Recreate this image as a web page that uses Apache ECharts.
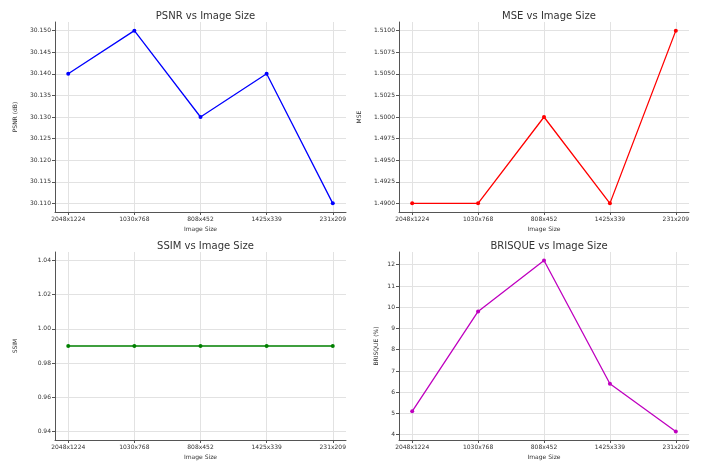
<!DOCTYPE html>
<html>
<head>
<meta charset="utf-8">
<script src="https://cdn.jsdelivr.net/npm/echarts@6/dist/echarts.min.js"></script>
<style>
  html, body { margin: 0; padding: 0; background: #fff; }
  #myChart { width: 705px; height: 462px; }
</style>
</head>
<body>
<div id="myChart"></div>
<script>
  // categories
  var sizes = ['2048x1224', '1030x768', '808x452', '1425x339', '231x209']
  // metric values
  var psnr = [30.140, 30.150, 30.130, 30.140, 30.110]
  var mse = [1.4900, 1.4900, 1.5000, 1.4900, 1.5100]
  var ssim = [0.99, 0.99, 0.99, 0.99, 0.99]
  var brisque = [5.1, 9.8, 12.2, 6.4, 4.15]
  // tick labels
  var psnrTicks = [30.110, 30.115, 30.120, 30.125, 30.130, 30.135, 30.140, 30.145, 30.150]
  var mseTicks = [1.4900, 1.4925, 1.4950, 1.4975, 1.5000, 1.5025, 1.5050, 1.5075, 1.5100]
  var ssimTicks = [0.94, 0.96, 0.98, 1.00, 1.02, 1.04]
  var brisqueTicks = [4, 5, 6, 7, 8, 9, 10, 11, 12]

  var font = 'DejaVu Sans'
  var idx = sizes.map(function (s, i) { return i })

  var panels = [
    { title: 'PSNR vs Image Size', yName: 'PSNR (dB)', data: psnr, ticks: psnrTicks, dec: 3, min: 30.108, max: 30.152, color: '#0000ff', grid: { left: 55, top: 22, width: 291, height: 190 } },
    { title: 'MSE vs Image Size', yName: 'MSE', data: mse, ticks: mseTicks, dec: 4, min: 1.489, max: 1.511, color: '#ff0000', grid: { left: 399, top: 22, width: 290, height: 190 } },
    { title: 'SSIM vs Image Size', yName: 'SSIM', data: ssim, ticks: ssimTicks, dec: 2, min: 0.935, max: 1.045, color: '#008000', grid: { left: 55, top: 252, width: 291, height: 188 } },
    { title: 'BRISQUE vs Image Size', yName: 'BRISQUE (%)', data: brisque, ticks: brisqueTicks, dec: 0, min: 3.75, max: 12.6, color: '#bf00bf', grid: { left: 399, top: 252, width: 290, height: 188 } }
  ]

  var option = { animation: false, title: [], grid: [], xAxis: [], yAxis: [], series: [] }

  panels.forEach(function (p, k) {
    option.grid.push(p.grid)
    option.title.push({
      text: p.title,
      left: p.grid.left + p.grid.width / 2,
      top: p.grid.top - 16,
      textAlign: 'center',
      textStyle: { fontFamily: font, fontSize: 10, fontWeight: 'normal', color: '#333' }
    })
    option.xAxis.push({
      type: 'value', gridIndex: k, min: -0.2, max: 4.2,
      name: 'Image Size', nameLocation: 'middle', nameGap: 14,
      nameTextStyle: { fontFamily: font, fontSize: 6, color: '#333' },
      axisLine: { onZero: false, lineStyle: { color: '#555', width: 1 } },
      axisTick: { show: true, length: 3, customValues: idx, lineStyle: { color: '#555' } },
      axisLabel: {
        customValues: idx, fontFamily: font, fontSize: 6, color: '#333', margin: 4,
        formatter: function (v) { return sizes[Math.round(v)] }
      },
      splitLine: { show: true, lineStyle: { color: '#e2e2e2', width: 1 } }
    })
    option.yAxis.push({
      type: 'value', gridIndex: k, min: p.min, max: p.max,
      name: p.yName, nameLocation: 'middle', nameGap: p.dec === 0 ? 20 : 37, nameRotate: 90,
      nameTextStyle: { fontFamily: font, fontSize: 6, color: '#333' },
      axisLine: { show: true, onZero: false, lineStyle: { color: '#555', width: 1 } },
      axisTick: { show: true, length: 3, customValues: p.ticks, lineStyle: { color: '#555' } },
      axisLabel: {
        customValues: p.ticks, fontFamily: font, fontSize: 6, color: '#333', margin: 4,
        formatter: function (v) { return v.toFixed(p.dec) }
      },
      splitLine: { show: true, lineStyle: { color: '#e2e2e2', width: 1 } }
    })
    option.series.push({
      type: 'line', xAxisIndex: k, yAxisIndex: k,
      data: p.data.map(function (v, i) { return [i, v] }),
      symbol: 'circle', symbolSize: 4,
      lineStyle: { color: p.color, width: 1.3 },
      itemStyle: { color: p.color }
    })
  })

  var myChart = echarts.init(document.getElementById('myChart'))
  myChart.setOption(option)
</script>
</body>
</html>
